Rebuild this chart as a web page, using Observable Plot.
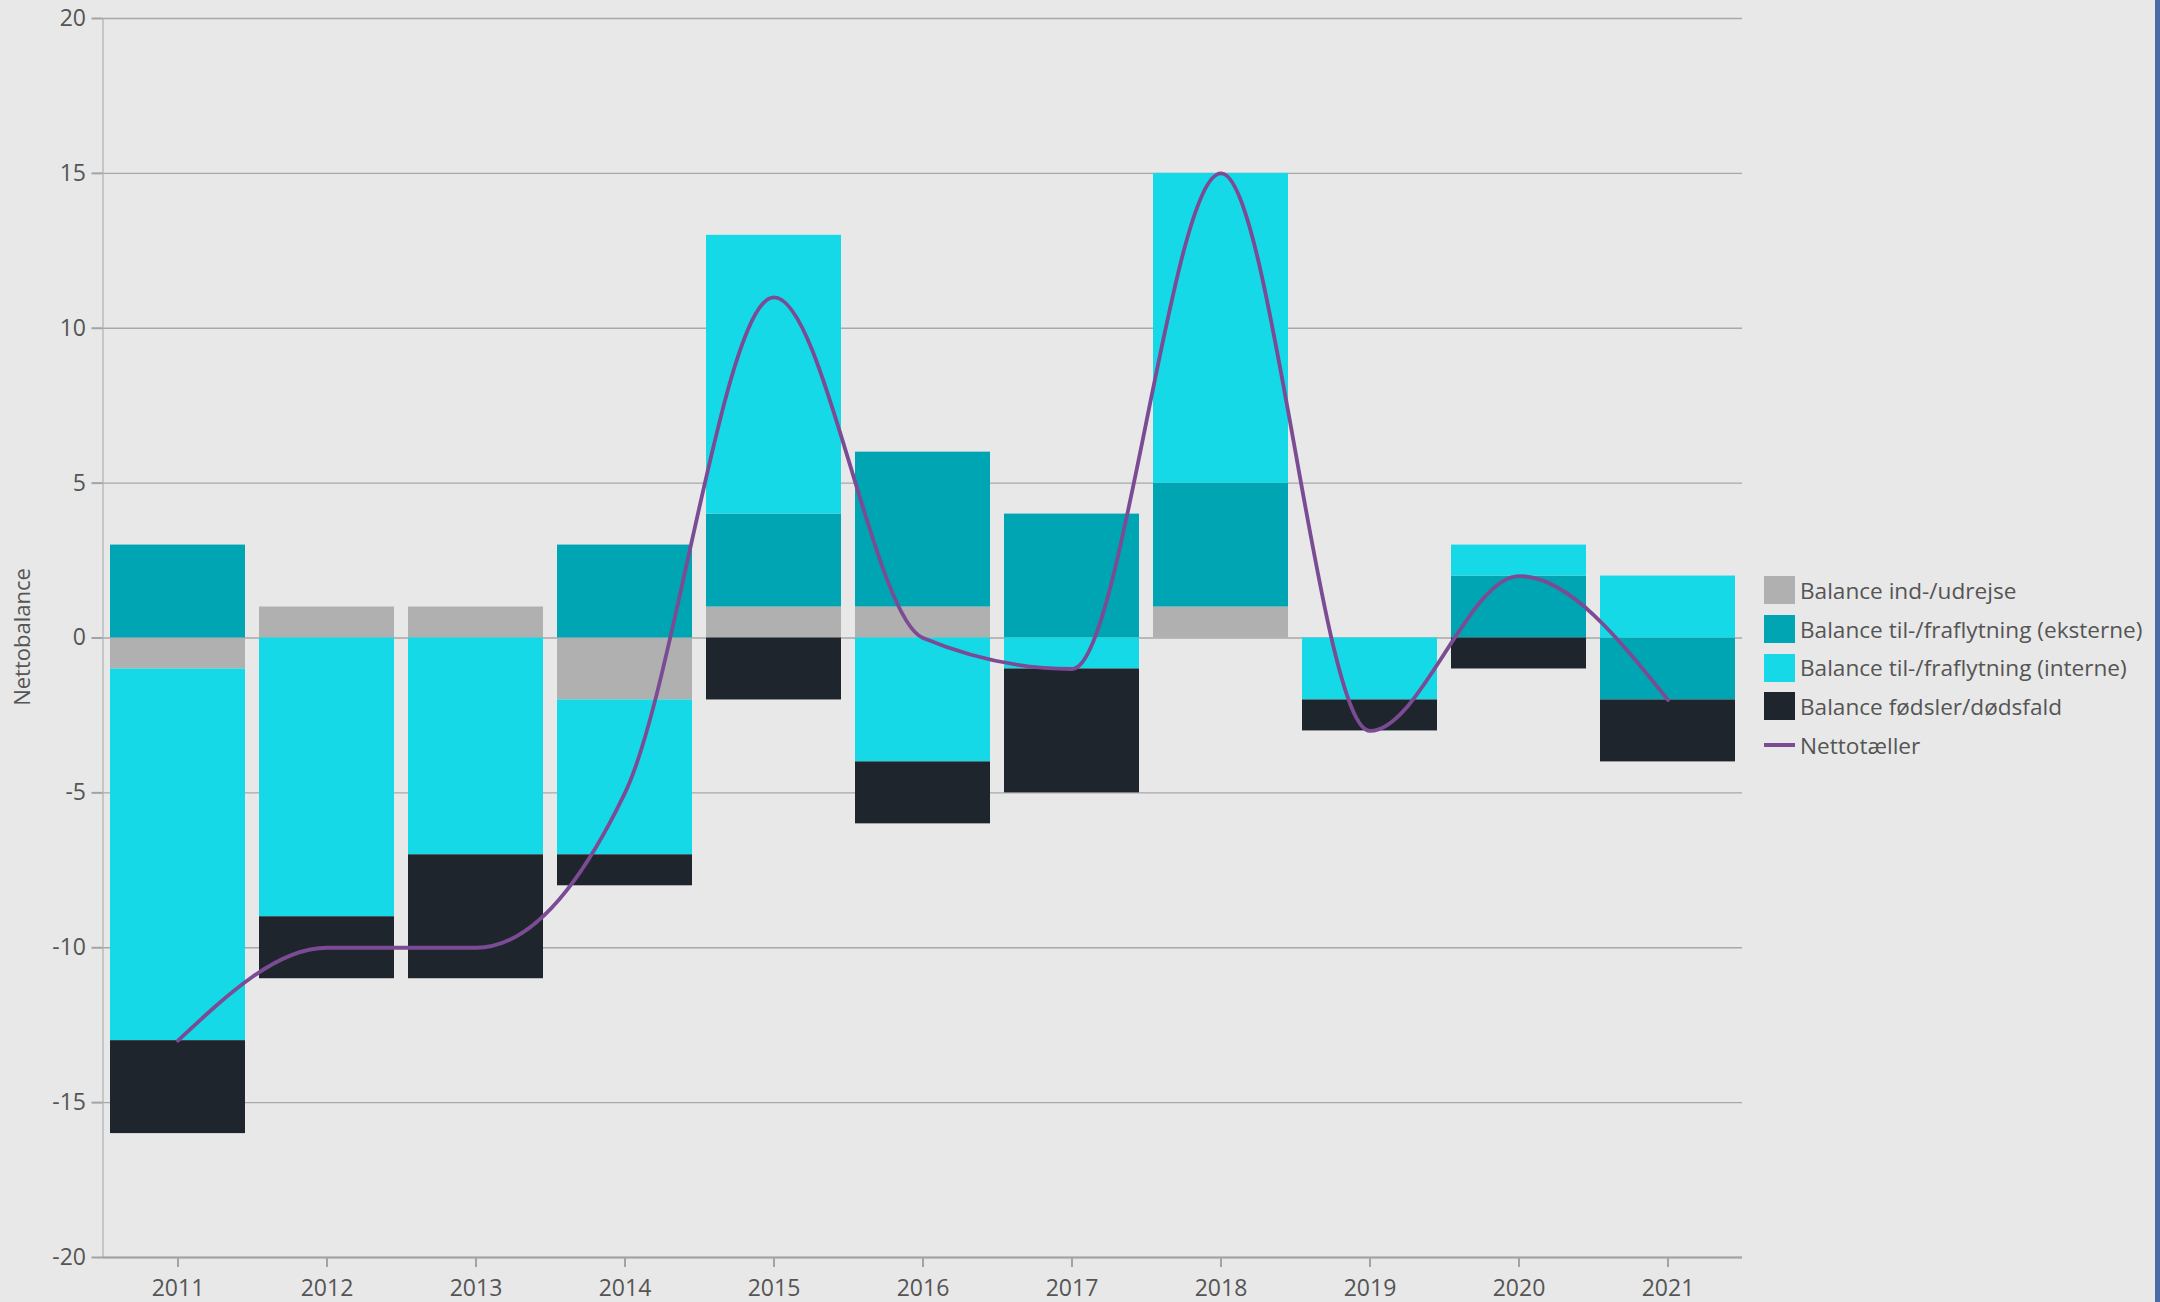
<!DOCTYPE html>
<html>
<head>
<meta charset="utf-8">
<script src="https://cdn.jsdelivr.net/npm/d3@7"></script>
<script src="https://cdn.jsdelivr.net/npm/@observablehq/plot@0.6"></script>
<style>
  html, body { margin: 0; padding: 0; background: #e8e8e8; overflow: hidden; }
  body { width: 2160px; height: 1302px; position: relative; font-family: "Open Sans", "Noto Sans", sans-serif; }
  #chart { position: absolute; left: 0; top: 0; }
  #chart svg text { fill: #555; }
  #chart svg [aria-label^="x-axis"] line, #chart svg [aria-label^="x-axis"] path,
  #chart svg [aria-label^="y-axis"] line, #chart svg [aria-label^="y-axis"] path { stroke: #a0a4a8; stroke-width: 2px; }
  #ylabel { position: absolute; left: 21px; top: 637px; transform: translate(-50%, -50%) rotate(-90deg); font-size: 22px; color: #555; white-space: nowrap; }
  #legend { position: absolute; left: 1764px; top: 571px; }
  .row { display: flex; align-items: center; height: 38.7px; }
  .sw { width: 31px; height: 28px; margin-right: 5px; flex: none; }
  .ln { width: 31px; height: 4px; margin-right: 5px; flex: none; }
  .lab { font-size: 22.6px; color: #555; white-space: nowrap; }
  #edge { position: absolute; right: 0; top: 0; width: 5px; height: 1302px; background: #4a6aa5; }
</style>
</head>
<body>
<div id="chart"></div>
<div id="ylabel"></div>
<div id="legend"></div>
<div id="edge"></div>
<script>
const years = ["2011","2012","2013","2014","2015","2016","2017","2018","2019","2020","2021"];
const seriesNames = [
  "Balance ind-/udrejse",
  "Balance til-/fraflytning (eksterne)",
  "Balance til-/fraflytning (interne)",
  "Balance fødsler/dødsfald"
];
const seriesColors = ["#b0b0b0", "#00a5b3", "#16d9e8", "#1f252d"];
const indUdrejse = [-1, 1, 1, -2, 1, 1, 0, 1, 0, 0, 0];
const eksterne   = [3, 0, 0, 3, 3, 5, 4, 4, 0, 2, -2];
const interne    = [-12, -9, -7, -5, 9, -4, -1, 10, -2, 1, 2];
const foedsler   = [-3, -2, -4, -1, -2, -2, -4, 0, -1, -1, -2];
const lineName = "Nettotæller";
const lineColor = "#7b4b94";
const netto = [-13, -10, -10, -5, 11, 0, -1, 15, -3, 2, -2];
const yTicks = [-20, -15, -10, -5, 0, 5, 10, 15, 20];
const yLabel = "Nettobalance";

const seriesValues = [indUdrejse, eksterne, interne, foedsler];
const rows = [];
years.forEach((yr, i) => {
  seriesNames.forEach((s, j) => rows.push({year: yr, series: s, value: seriesValues[j][i]}));
});
const lineRows = years.map((yr, i) => ({year: yr, value: netto[i]}));

const chart = Plot.plot({
  width: 2160,
  height: 1302,
  marginLeft: 102.5,
  marginRight: 418,
  marginTop: 18,
  marginBottom: 45,
  style: {background: "transparent", fontFamily: "'Open Sans', 'Noto Sans', sans-serif", fontSize: "23px", color: "#a0a4a8", overflow: "visible"},
  x: {domain: years, padding: 0, label: null, tickSize: 10, tickPadding: 12},
  y: {domain: [-20, 20], ticks: yTicks, tickFormat: d => String(d), label: null, tickSize: 11, tickPadding: 6, line: true},
  color: {domain: seriesNames, range: seriesColors},
  marks: [
    Plot.ruleY(yTicks, {stroke: "#a8a8a8", strokeWidth: 1.3}),
    Plot.barY(rows, {x: "year", y: "value", fill: "series", insetLeft: 7, insetRight: 7}),
    Plot.line(lineRows, {x: "year", y: "value", curve: "monotone-x", stroke: lineColor, strokeWidth: 3.8}),
    Plot.ruleY([yTicks[0]], {stroke: "#a0a4a8", strokeWidth: 2})
  ]
});
document.getElementById("chart").appendChild(chart);
document.getElementById("ylabel").textContent = yLabel;

const legend = document.getElementById("legend");
seriesNames.forEach((s, j) => {
  const r = document.createElement("div"); r.className = "row";
  r.innerHTML = `<div class="sw" style="background:${seriesColors[j]}"></div><div class="lab"></div>`;
  r.querySelector(".lab").textContent = s;
  legend.appendChild(r);
});
const lr = document.createElement("div"); lr.className = "row";
lr.innerHTML = `<div class="ln" style="background:${lineColor}"></div><div class="lab"></div>`;
lr.querySelector(".lab").textContent = lineName;
legend.appendChild(lr);
</script>
</body>
</html>
